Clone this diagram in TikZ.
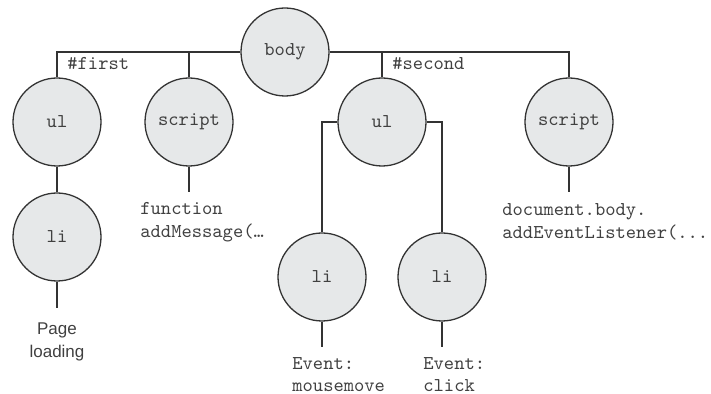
\documentclass[tikz,border=0pt]{standalone}
\usepackage{fontspec}
\setmainfont{Liberation Sans}

\begin{document}
\begin{tikzpicture}[x=0.5pt,y=-0.5pt,
  elem/.style={circle,minimum size=44pt,inner sep=0pt,draw=cline,fill=cfill,text=ctext,line width=0.65pt,font=\ttfamily\fontsize{9.8}{11.5}\selectfont},
  code/.style={anchor=north west,inner sep=0pt,align=left,text=ctext,font=\ttfamily\fontsize{9.8}{11.5}\selectfont},
  idtag/.style={anchor=base west,inner sep=0pt,text=ctext,font=\ttfamily\fontsize{9.8}{11.5}\selectfont},
  plain/.style={anchor=north,inner sep=0pt,align=center,text=ctext,font=\fontsize{8.5}{11.5}\selectfont},
  wire/.style={draw=cline,line width=0.65pt}]
\definecolor{cline}{rgb}{0.2,0.2,0.2}
\definecolor{cfill}{rgb}{0.902,0.91,0.914}
\definecolor{ctext}{rgb}{0.25,0.25,0.25}
\useasboundingbox (0,0) rectangle (711,394);
%
\node[elem] (body) at (285,52) {body};
\node[elem] (ul1) at (57,122) {ul};
\node[elem] (script1) at (189,122) {script};
\node[elem] (ul2) at (382,122) {ul};
\node[elem] (script2) at (569,122) {script};
\node[elem] (li1) at (57,237) {li};
\node[elem] (li2a) at (322,277) {li};
\node[elem] (li2b) at (442,277) {li};
%
\node[idtag] (first) at (67,70) {\#first};
\node[idtag] (second) at (392,70) {\#second};
\node[plain] (load) at (57,322) {Page\\loading};
\node[code] (fn) at (140,202) {function\\addMessage(\ldots};
\node[code] (listen) at (502,203) {document.body.\\addEventListener(...};
\node[code,font=\ttfamily\fontsize{9.8}{11}\selectfont] (move) at (292,357) {Event:\\mousemove};
\node[code,font=\ttfamily\fontsize{9.8}{11}\selectfont] (click) at (423,357) {Event:\\click};
%
\coordinate (e1) at (57,308);
\coordinate (e2) at (189,192);
\coordinate (e3) at (569,192);
\coordinate (e4) at (322,347);
\coordinate (e5) at (442,347);
%
\draw[wire] (body.west) -| (ul1.north);
\draw[wire] (script1.north) -- (script1.north |- body.west);
\draw[wire] (body.east) -| (script2.north);
\draw[wire] (ul2.north) -- (ul2.north |- body.east);
\draw[wire] (ul1) -- (li1);
\draw[wire] (ul2.west) -| (li2a.north);
\draw[wire] (ul2.east) -| (li2b.north);
%
\draw[wire] (li1.south) -- (e1);
\draw[wire] (script1.south) -- (e2);
\draw[wire] (script2.south) -- (e3);
\draw[wire] (li2a.south) -- (e4);
\draw[wire] (li2b.south) -- (e5);
%
\end{tikzpicture}
\end{document}
